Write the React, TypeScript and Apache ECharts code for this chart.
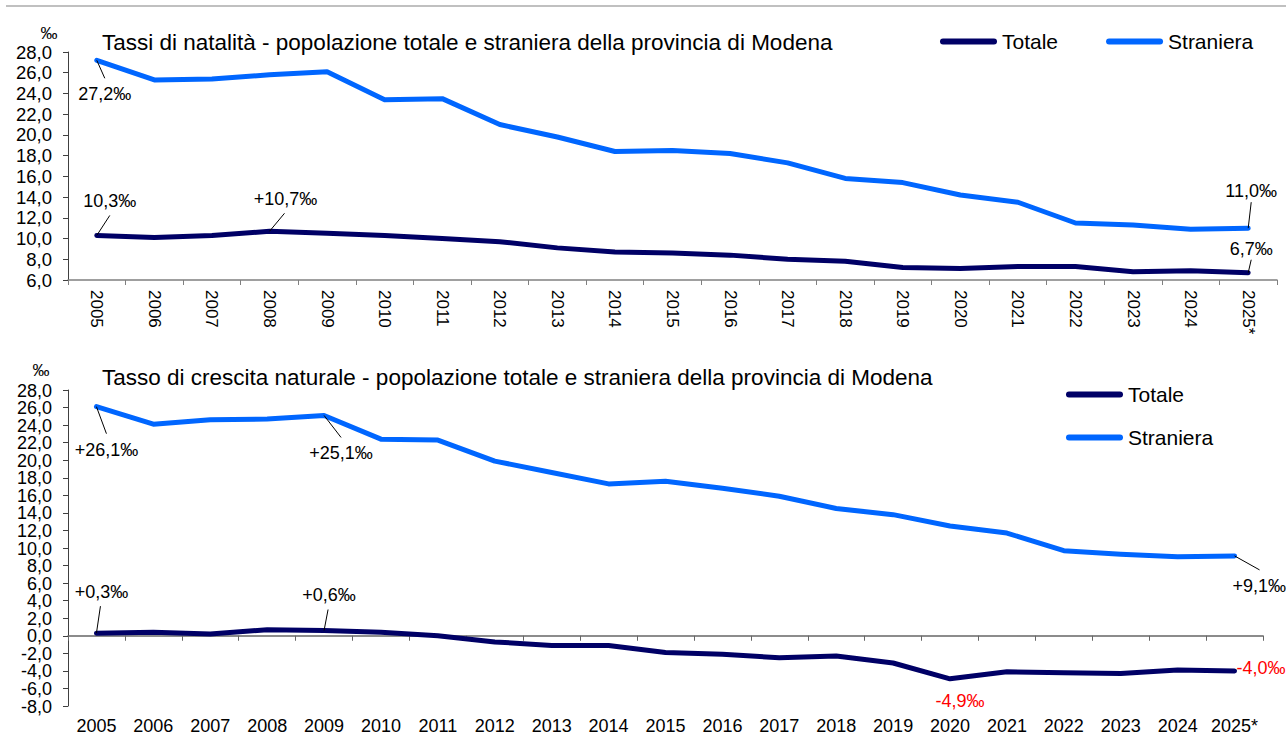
import React, { useEffect, useRef } from "react";
import * as echarts from "echarts";

const years = [
  "2005", "2006", "2007", "2008", "2009", "2010", "2011", "2012", "2013", "2014",
  "2015", "2016", "2017", "2018", "2019", "2020", "2021", "2022", "2023", "2024", "2025*",
];

// Tassi di natalità (‰)
const natalitaTotale = [10.3, 10.1, 10.3, 10.7, 10.5, 10.3, 10.0, 9.7, 9.1, 8.7, 8.6, 8.4, 8.0, 7.8, 7.2, 7.1, 7.3, 7.3, 6.8, 6.9, 6.7];
const natalitaStraniera = [27.2, 25.3, 25.4, 25.8, 26.1, 23.4, 23.5, 21.0, 19.8, 18.4, 18.5, 18.2, 17.3, 15.8, 15.4, 14.2, 13.5, 11.5, 11.3, 10.9, 11.0];

// Tasso di crescita naturale (‰)
const crescitaTotale = [0.3, 0.4, 0.2, 0.7, 0.6, 0.4, 0.0, -0.7, -1.1, -1.1, -1.9, -2.1, -2.5, -2.3, -3.1, -4.9, -4.1, -4.2, -4.3, -3.9, -4.0];
const crescitaStraniera = [26.1, 24.1, 24.6, 24.7, 25.1, 22.4, 22.3, 19.9, 18.6, 17.3, 17.6, 16.8, 15.9, 14.5, 13.8, 12.5, 11.7, 9.7, 9.3, 9.0, 9.1];

// Tick labels of the lower chart's value axis
const crescitaTicks = [28, 26, 24, 22, 20, 18, 16, 14, 12, 10, 8, 6, 4, 2, 0, -2, -4, -6, -8];

const seriesNames = ["Totale", "Straniera"];
const titleTop = "Tassi di natalità - popolazione totale e straniera della provincia di Modena";
const titleBottom = "Tasso di crescita naturale - popolazione totale e straniera della provincia di Modena";
const unitLabel = "‰";

const FONT = '"Liberation Sans", Arial, Helvetica, sans-serif';
const NAVY = "#000066";
const BLUE = "#0066FF";
const RED = "#FF0000";

const fmt = (v: number) => v.toFixed(1).replace(".", ",");
const fmtPerMille = (v: number, plus: boolean) => (plus && v > 0 ? "+" : "") + fmt(v) + "‰";

// [seriesIndex, dataIndex, plusSign, color, lineDx, lineDy, labelDx, labelDy, align]
type Ann = [number, number, boolean, string, number | null, number | null, number, number, string];
const annotations: Ann[] = [
  [1, 0, false, "#000", 8, 18, 8, 34, "center"],
  [0, 0, false, "#000", 13, -20, 13, -34, "center"],
  [0, 3, true, "#000", 15, -18, 16, -32, "center"],
  [1, 20, false, "#000", 3, -26, 3, -37, "center"],
  [0, 20, false, "#000", 3, -13, 3, -24, "center"],
  [3, 0, true, "#000", 10, 27, 10, 43, "center"],
  [3, 4, true, "#000", 17, 22, 17, 38, "center"],
  [2, 0, true, "#000", 4, -27, 5, -41, "center"],
  [2, 4, true, "#000", 4, -21, 5, -36, "center"],
  [3, 20, true, "#000", 25, 14, -2, 30, "left"],
  [2, 20, false, RED, null, null, 2, -3, "left"],
  [2, 15, false, RED, null, null, 10, 22, "center"],
];

const legendIcon = "path://M3,0 L54,0 A3,3 0 0 1 54,6 L3,6 A3,3 0 0 1 3,0 Z";

export default function App() {
  const ref = useRef<HTMLDivElement>(null);

  useEffect(() => {
    document.body.style.margin = "0";
    const chart = echarts.init(ref.current!, null, { renderer: "svg" });
    const seriesData = [natalitaTotale, natalitaStraniera, crescitaTotale, crescitaStraniera];

    const mkLine = (name: string, color: string, data: number[], xi: number, yi: number) => ({
      type: "line",
      name,
      data,
      xAxisIndex: xi,
      yAxisIndex: yi,
      showSymbol: false,
      symbol: "none",
      smooth: false,
      lineStyle: { color, width: 5, cap: "round", join: "round" },
      itemStyle: { color },
      emphasis: { disabled: true },
      z: name === "Totale" ? 3 : 2,
    });

    const legendBase = {
      data: seriesNames,
      padding: 0,
      icon: legendIcon,
      itemWidth: 57,
      itemHeight: 6,
      textStyle: { fontFamily: FONT, fontSize: 21, color: "#000" },
    };

    chart.setOption({
      animation: false,
      backgroundColor: "#fff",
      textStyle: { fontFamily: FONT },
      grid: [
        { left: 68, top: 52, width: 1209, height: 228, containLabel: false },
        { left: 68, top: 390, width: 1195, height: 317, containLabel: false },
      ],
      legend: [
        { ...legendBase, left: 940, top: 31, orient: "horizontal", itemGap: 48 },
        { ...legendBase, left: 1066, top: 384, orient: "vertical", itemGap: 22 },
      ],
      xAxis: [
        {
          type: "category",
          gridIndex: 0,
          data: years,
          boundaryGap: true,
          axisLine: { show: true, lineStyle: { color: "#808080", width: 1.5 } },
          axisTick: { show: true, interval: 0, length: 5, lineStyle: { color: "#808080" } },
          axisLabel: { interval: 0, rotate: -90, margin: 10, fontFamily: FONT, fontSize: 17, color: "#000" },
          splitLine: { show: false },
        },
        {
          type: "category",
          gridIndex: 1,
          data: years,
          boundaryGap: true,
          axisLine: { show: true, onZero: true, lineStyle: { color: "#666", width: 1.5 } },
          axisTick: { show: true, interval: 0, length: 5, lineStyle: { color: "#666" } },
          axisLabel: { show: false },
          splitLine: { show: false },
        },
        {
          type: "category",
          gridIndex: 1,
          data: years,
          boundaryGap: true,
          position: "bottom",
          axisLine: { show: false, onZero: false },
          axisTick: { show: false },
          axisLabel: { interval: 0, margin: 11, fontFamily: FONT, fontSize: 18, color: "#000" },
          splitLine: { show: false },
        },
      ],
      yAxis: [
        {
          type: "value",
          gridIndex: 0,
          min: 6,
          max: 28,
          interval: 2,
          axisLine: { show: true, lineStyle: { color: "#404040" } },
          axisTick: { show: true, length: 5, lineStyle: { color: "#404040" } },
          axisLabel: {
            fontFamily: FONT,
            fontSize: 18.5,
            color: "#000",
            margin: 16,
            showMinLabel: true,
            showMaxLabel: true,
            formatter: (v: number) => fmt(v),
          },
          splitLine: { show: false },
        },
        {
          type: "value",
          gridIndex: 1,
          min: -8,
          max: 28,
          interval: 2,
          axisLine: { show: true, onZero: false, lineStyle: { color: "#404040" } },
          axisTick: { show: true, length: 5, lineStyle: { color: "#404040" } },
          axisLabel: { show: false },
          splitLine: { show: false },
        },
      ],
      series: [
        mkLine(seriesNames[0], NAVY, natalitaTotale, 0, 0),
        mkLine(seriesNames[1], BLUE, natalitaStraniera, 0, 0),
        mkLine(seriesNames[0], NAVY, crescitaTotale, 1, 1),
        mkLine(seriesNames[1], BLUE, crescitaStraniera, 1, 1),
      ],
    });

    const graphics: any[] = [
      {
        type: "line",
        shape: { x1: 6, y1: 6, x2: 1286, y2: 6 },
        style: { stroke: "#c0c0c0", lineWidth: 2 },
        silent: true,
      },
      {
        type: "text",
        x: 102,
        y: 42,
        style: { text: titleTop, font: `22.5px ${FONT}`, fill: "#000", align: "left", verticalAlign: "middle" },
      },
      {
        type: "text",
        x: 102,
        y: 377,
        style: { text: titleBottom, font: `22.5px ${FONT}`, fill: "#000", align: "left", verticalAlign: "middle" },
      },
      {
        type: "text",
        x: 49,
        y: 33,
        style: { text: unitLabel, font: `17px ${FONT}`, fill: "#000", align: "center", verticalAlign: "middle" },
      },
      {
        type: "text",
        x: 41,
        y: 370,
        style: { text: unitLabel, font: `17px ${FONT}`, fill: "#000", align: "center", verticalAlign: "middle" },
      },
    ];

    // lower value axis tick labels, placed through the axis scale
    crescitaTicks.forEach((t) => {
      const y = chart.convertToPixel({ yAxisIndex: 1 }, t) as number;
      const x = chart.convertToPixel({ xAxisIndex: 1 }, 0) as number;
      const axisX = x - (x - 68) ; // y axis sits at the grid's left edge
      graphics.push({
        type: "text",
        x: axisX - 16,
        y: y + 0.5,
        style: { text: fmt(t), font: `18px ${FONT}`, fill: "#000", align: "right", verticalAlign: "middle" },
      });
    });

    annotations.forEach(([si, di, plus, color, ldx, ldy, tdx, tdy, align]) => {
      const v = seriesData[si][di];
      const p = chart.convertToPixel({ seriesIndex: si }, [di, v]) as number[];
      if (!p) return;
      if (ldx !== null && ldy !== null) {
        graphics.push({
          type: "line",
          shape: { x1: p[0], y1: p[1], x2: p[0] + ldx, y2: p[1] + ldy },
          style: { stroke: "#000", lineWidth: 1 },
          z: 10,
          silent: true,
        });
      }
      graphics.push({
        type: "text",
        x: p[0] + tdx,
        y: p[1] + tdy,
        z: 10,
        style: {
          text: fmtPerMille(v, plus),
          font: `18px ${FONT}`,
          fill: color,
          align,
          verticalAlign: "middle",
        },
      });
    });

    chart.setOption({ graphic: graphics });

    return () => chart.dispose();
  }, []);

  return (
    <div
      ref={ref}
      style={{ position: "absolute", left: 0, top: 0, width: 1286, height: 735, background: "#fff" }}
    />
  );
}
